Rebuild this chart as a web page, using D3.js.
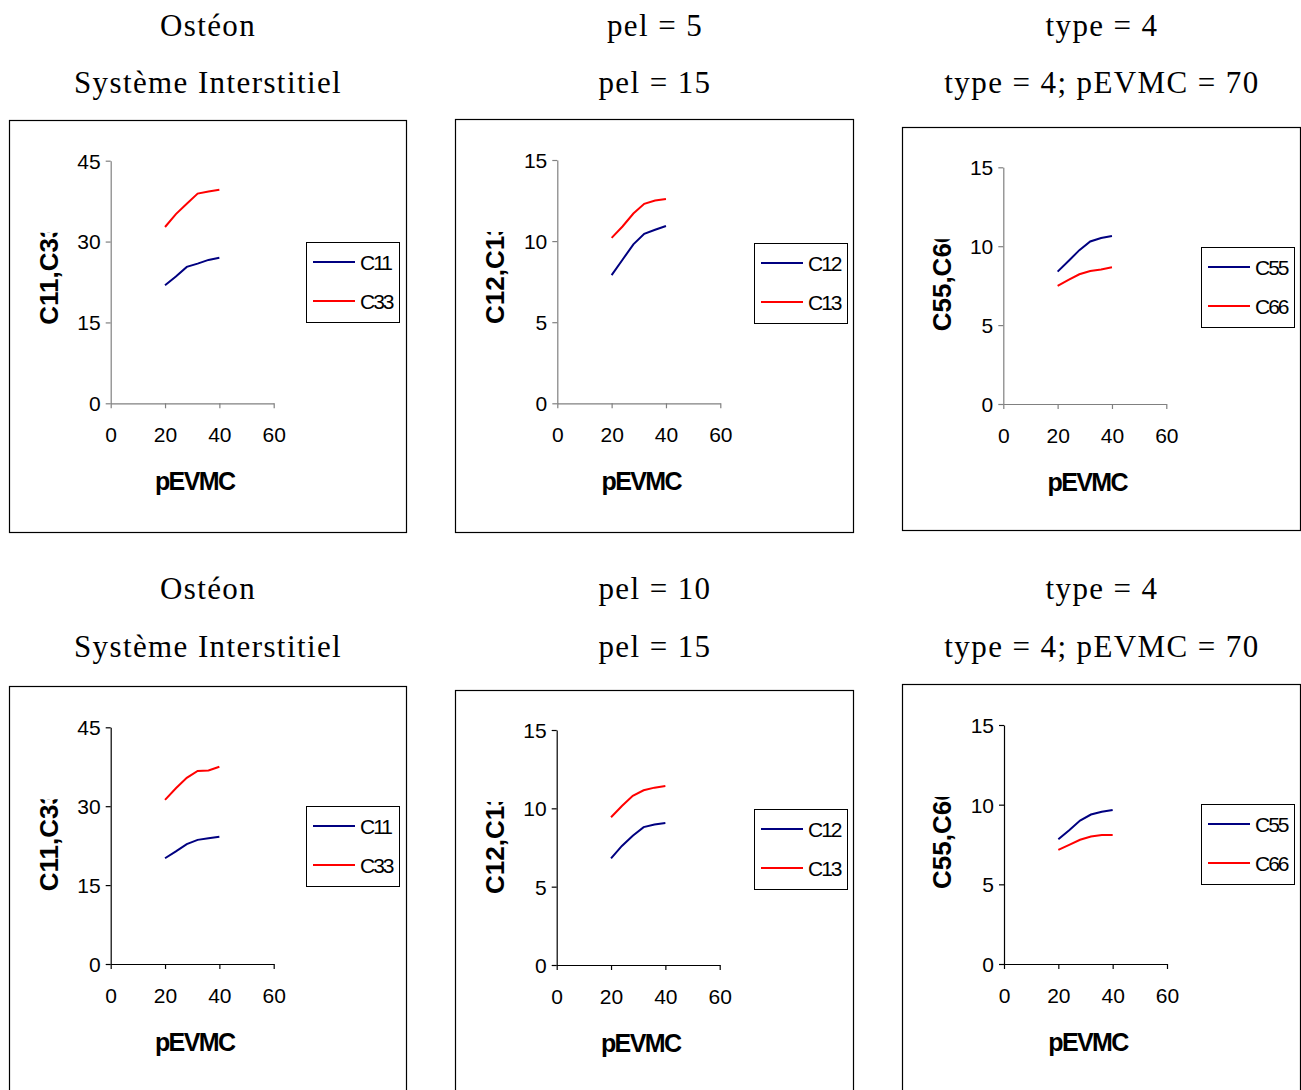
<!DOCTYPE html>
<html><head><meta charset="utf-8">
<script src="https://cdn.jsdelivr.net/npm/d3@7"></script>
<style>body{margin:0;background:#fff}svg{display:block}</style>
</head><body>
<svg id="c" width="1301" height="1090"></svg>
<script>
// ---- data ----
const pEVMC = [20, 24, 28, 32, 36, 40];
const xTicks = [0, 20, 40, 60];
const yTicks45 = [0, 15, 30, 45];
const yTicks15 = [0, 5, 10, 15];

const C11_top = [21.9, 23.5, 25.3, 25.9, 26.6, 27.0];
const C33_top = [32.7, 35.1, 37.0, 38.9, 39.3, 39.6];
const C12_top = [7.9, 8.85, 9.8, 10.45, 10.7, 10.93];
const C13_top = [10.2, 10.9, 11.7, 12.3, 12.5, 12.6];
const C55_top = [8.39, 9.06, 9.75, 10.3, 10.52, 10.65];
const C66_top = [7.48, 7.86, 8.22, 8.43, 8.52, 8.66];

const C11_bot = [20.1, 21.4, 22.8, 23.6, 23.9, 24.2];
const C33_bot = [31.2, 33.4, 35.4, 36.7, 36.8, 37.5];
const C12_bot = [6.81, 7.6, 8.25, 8.8, 8.97, 9.06];
const C13_bot = [9.43, 10.15, 10.8, 11.15, 11.32, 11.43];
const C55_bot = [7.83, 8.4, 9.0, 9.38, 9.55, 9.67];
const C66_bot = [7.16, 7.48, 7.8, 8.0, 8.1, 8.1];

const titles1 = ["Ostéon", "pel = 5", "type = 4", "Ostéon", "pel = 10", "type = 4"];
const titles2 = ["Système Interstitiel", "pel = 15", "type = 4; pEVMC = 70", "Système Interstitiel", "pel = 15", "type = 4; pEVMC = 70"];
const yTitles = ["C11,C33", "C12,C13", "C55,C66", "C11,C33", "C12,C13", "C55,C66"];
const seriesNames = [["C11","C33"],["C12","C13"],["C55","C66"],["C11","C33"],["C12","C13"],["C55","C66"]];
const seriesValues = [[C11_top,C33_top],[C12_top,C13_top],[C55_top,C66_top],[C11_bot,C33_bot],[C12_bot,C13_bot],[C55_bot,C66_bot]];
const yMax = [45, 15, 15, 45, 15, 15];
const xLabel = "pEVMC";

// ---- layout ----
const layout = [
  {cx:208, t1:25, t2:82,  bx:9,   by:120, bw:397, bh:412, px:110.7, pt:160.7, pb:403.3, lx:306, ly:242, axis:"#808080"},
  {cx:655, t1:25, t2:82,  bx:455, by:119, bw:398, bh:413, px:557.3, pt:160,   pb:403.3, lx:754, ly:243, axis:"#808080"},
  {cx:1102,t1:25, t2:82,  bx:902, by:127, bw:398, bh:403, px:1003.3,pt:167.3, pb:404,   lx:1201,ly:247, axis:"#808080"},
  {cx:208, t1:588,t2:646, bx:9,   by:686, bw:397, bh:410, px:110.7, pt:727.3, pb:964,   lx:306, ly:806, axis:"#000"},
  {cx:655, t1:588,t2:646, bx:455, by:690, bw:398, bh:410, px:556.7, pt:730,   pb:965,   lx:754, ly:809, axis:"#000"},
  {cx:1102,t1:588,t2:646, bx:902, by:684, bw:398, bh:410, px:1004,  pt:725,   pb:964,   lx:1201,ly:804, axis:"#000"}
];
const colors = ["#000080", "#ff0000"];
const svg = d3.select("#c");
const defs = svg.append("defs");

layout.forEach((L, i) => {
  const g = svg.append("g");
  // titles
  [[titles1[i], L.t1], [titles2[i], L.t2]].forEach(([t, ty]) => {
    g.append("text").attr("x", L.cx).attr("y", ty).attr("text-anchor","middle").attr("dominant-baseline","central")
      .style("font-family","'Liberation Serif','DejaVu Serif',serif").style("font-size","31px")
      .style("letter-spacing","1.4px").text(t);
  });
  // box
  g.append("rect").attr("x", L.bx+0.5).attr("y", L.by+0.5).attr("width", L.bw).attr("height", L.bh)
    .attr("fill","#fff").attr("stroke","#000").attr("stroke-width",1.2);

  const x = d3.scaleLinear().domain([0,60]).range([L.px, L.px+163]);
  const y = d3.scaleLinear().domain([0,yMax[i]]).range([L.pb, L.pt]);
  const yt = yMax[i] === 45 ? yTicks45 : yTicks15;

  const ax = g.append("g").attr("transform",`translate(0,${L.pb})`)
    .call(d3.axisBottom(x).tickValues(xTicks).tickSize(5).tickPadding(19).tickSizeOuter(0));
  const ay = g.append("g").attr("transform",`translate(${L.px},0)`)
    .call(d3.axisLeft(y).tickValues(yt).tickSize(5).tickPadding(5).tickSizeOuter(0));
  [ax, ay].forEach(a => {
    a.selectAll("path,line").attr("stroke", L.axis).attr("stroke-width",1.2);
    a.selectAll("text").style("font-family","'Liberation Sans',Arial,sans-serif").style("font-size","21px").attr("fill","#000");
  });
  ay.selectAll("text").attr("dy","0.35em");

  // lines
  const line = d3.line().x((d,k)=>x(pEVMC[k])).y(d=>y(d));
  seriesValues[i].forEach((vals, s) => {
    g.append("path").datum(vals).attr("d", line).attr("fill","none")
      .attr("stroke", colors[s]).attr("stroke-width", 2);
  });

  // x title
  g.append("text").attr("x", L.px+84).attr("y", L.pb+87).attr("text-anchor","middle")
    .style("font-family","'Liberation Sans',Arial,sans-serif").style("font-weight","bold").style("font-size","25px")
    .style("letter-spacing","-1.6px").text(xLabel);

  // y title (clipped at top like the original)
  const cid = "clip"+i;
  defs.append("clipPath").attr("id",cid).append("rect")
    .attr("x", L.bx).attr("y", L.pt+72).attr("width", 80).attr("height", 200);
  g.append("g").attr("clip-path",`url(#${cid})`).append("text")
    .attr("transform",`translate(${L.bx+40},${L.pt+164}) rotate(-90)`)
    .attr("text-anchor","start").attr("dominant-baseline","central")
    .style("font-family","'Liberation Sans',Arial,sans-serif").style("font-weight","bold").style("font-size","26px")
    .text(yTitles[i]);

  // legend
  const lg = g.append("g").attr("transform",`translate(${L.lx},${L.ly})`);
  lg.append("rect").attr("x",0.5).attr("y",0.5).attr("width",93).attr("height",80)
    .attr("fill","#fff").attr("stroke","#000").attr("stroke-width",1);
  seriesNames[i].forEach((n, s) => {
    const yy = 20 + s*39;
    lg.append("line").attr("x1",7).attr("x2",49).attr("y1",yy).attr("y2",yy).attr("stroke",colors[s]).attr("stroke-width",2);
    lg.append("text").attr("x",54).attr("y",yy).attr("dominant-baseline","central")
      .style("font-family","'Liberation Sans',Arial,sans-serif").style("font-size","21px").style("letter-spacing","-2px")
      .text(n);
  });
});
</script>
</body></html>
